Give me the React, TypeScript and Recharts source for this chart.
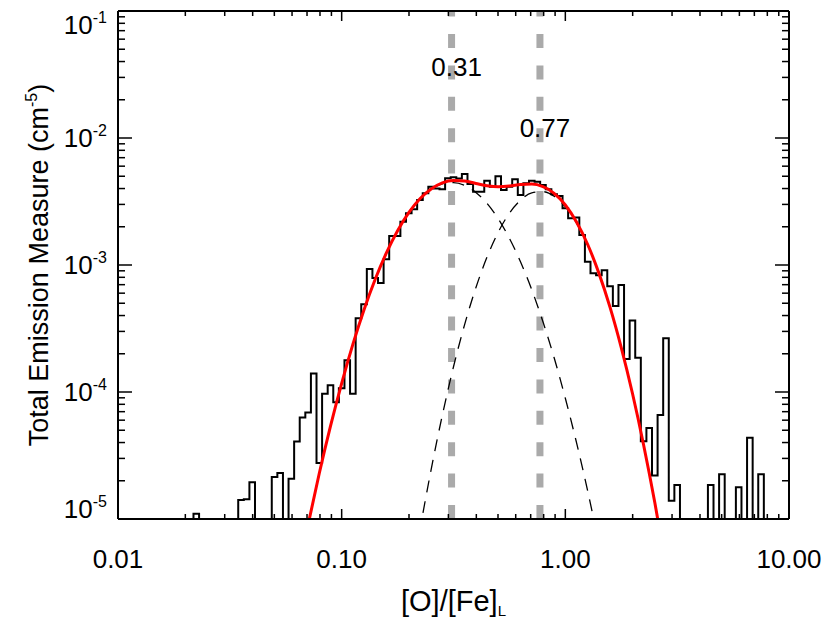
import React from 'react';
import { LineChart, Line, XAxis, YAxis, ReferenceLine, ReferenceDot } from 'recharts';

const FONT = '"Liberation Sans", Arial, Helvetica, sans-serif';

// axes
const xMajor = [0.01, 0.1, 1, 10];
const xMajorLabels = ['0.01', '0.10', '1.00', '10.00'];
const yMajor = [1e-5, 1e-4, 1e-3, 1e-2, 1e-1];
const yMajorExp = ['-5', '-4', '-3', '-2', '-1'];
const minorSteps = [2, 3, 4, 5, 6, 7, 8, 9];

// histogram: bins of 0.025 dex centred from log10 = -2 (empty bins = 0)
const histFirstLog = -2;
const histBinLog = 0.025;
const histValues = [
  0, 0, 0, 0, 0, 0, 0, 0, 0, 0,
  0, 0, 0, 0, 1.1e-5, 0, 0, 0, 0, 0,
  0, 0, 1.41e-5, 1.43e-5, 1.95e-5, 0, 0, 0, 2.14e-5, 2.3e-5,
  0, 2.07e-5, 4.07e-5, 6.3e-5, 6.9e-5, 1.4e-4, 2.76e-5, 9.7e-5, 1.13e-4, 8.3e-5,
  1.07e-4, 1.78e-4, 9.7e-5, 3.8e-4, 4.9e-4, 9.3e-4, 7.9e-4, 7.2e-4, 1.11e-3, 1.69e-3,
  1.69e-3, 2.19e-3, 2.55e-3, 2.75e-3, 3.25e-3, 3.67e-3, 4.14e-3, 4.0e-3, 3.94e-3, 4.82e-3,
  4.9e-3, 4.8e-3, 5.2e-3, 4.35e-3, 3.78e-3, 3.78e-3, 4.61e-3, 4.14e-3, 5.0e-3, 3.9e-3,
  4.14e-3, 4.73e-3, 3.56e-3, 4.4e-3, 4.6e-3, 4.53e-3, 4.26e-3, 3.94e-3, 3.6e-3, 3.5e-3,
  2.8e-3, 2.33e-3, 2.37e-3, 1.72e-3, 1.06e-3, 8.6e-4, 8.3e-4, 9.1e-4, 6.8e-4, 4.75e-4,
  6.97e-4, 1.82e-4, 3.65e-4, 1.86e-4, 4.1e-5, 5.2e-5, 2.2e-5, 6.6e-5, 2.65e-4, 1.39e-5,
  1.85e-5, 0, 0, 0, 0, 0, 1.85e-5, 0, 2.25e-5, 0,
  0, 1.78e-5, 0, 4.37e-5, 0, 2.25e-5, 0, 0, 0, 0,
  0,
];

// total fit (red)
const fitLogX = [
  -1.2, -1.15, -1.1, -1.05, -1, -0.95, -0.9, -0.85, -0.8, -0.75, -0.7, -0.65,
  -0.6, -0.55, -0.5, -0.45, -0.4, -0.35, -0.3, -0.25, -0.2, -0.15, -0.1, -0.05,
  0, 0.05, 0.1, 0.15, 0.2, 0.25, 0.3, 0.35, 0.4, 0.45,
];
const totalFit = [
  3.31e-6, 9.04e-6, 2.29e-5, 5.38e-5, 1.17e-4, 2.37e-4, 4.45e-4, 7.73e-4, 1.245e-3, 1.86e-3, 2.58e-3, 3.32e-3,
  3.96e-3, 4.43e-3, 4.62e-3, 4.58e-3, 4.39e-3, 4.21e-3, 4.13e-3, 4.18e-3, 4.3e-3, 4.34e-3, 4.14e-3, 3.67e-3,
  2.97e-3, 2.18e-3, 1.45e-3, 8.63e-4, 4.64e-4, 2.24e-4, 9.77e-5, 3.83e-5, 1.35e-5, 4.26e-6,
];

// low component (dashed)
const lowLogX = [
  -1.2, -1.15, -1.1, -1.05, -1, -0.95, -0.9, -0.85, -0.8, -0.75, -0.7, -0.65,
  -0.6, -0.55, -0.5, -0.45, -0.4, -0.35, -0.3, -0.25, -0.2, -0.15, -0.1, -0.05,
  0, 0.05, 0.1, 0.15,
];
const lowComp = [
  3.31e-6, 9.04e-6, 2.29e-5, 5.38e-5, 1.17e-4, 2.37e-4, 4.45e-4, 7.73e-4, 1.245e-3, 1.86e-3, 2.58e-3, 3.31e-3,
  3.94e-3, 4.36e-3, 4.46e-3, 4.24e-3, 3.73e-3, 3.05e-3, 2.31e-3, 1.62e-3, 1.057e-3, 6.38e-4, 3.57e-4, 1.86e-4,
  8.93e-5, 3.99e-5, 1.66e-5, 6.35e-6,
];

// high component (dashed)
const highLogX = [
  -0.7, -0.65, -0.6, -0.55, -0.5, -0.45, -0.4, -0.35, -0.3, -0.25, -0.2, -0.15,
  -0.1, -0.05, 0, 0.05, 0.1, 0.15, 0.2, 0.25, 0.3, 0.35, 0.4, 0.45,
];
const highComp = [
  2.48e-6, 8.22e-6, 2.45e-5, 6.56e-5, 1.58e-4, 3.41e-4, 6.62e-4, 1.156e-3, 1.815e-3, 2.56e-3, 3.24e-3, 3.7e-3,
  3.78e-3, 3.48e-3, 2.88e-3, 2.14e-3, 1.43e-3, 8.57e-4, 4.62e-4, 2.24e-4, 9.77e-5, 3.83e-5, 1.35e-5, 4.26e-6,
];

// peak markers
const peakX = [0.31, 0.77];
const peakLabels = ['0.31', '0.77'];
const peakLabelY = [0.036, 0.012];

const histData = histValues.map((v, i) => ({
  x: Math.pow(10, histFirstLog + i * histBinLog),
  y: v > 0 ? v : yMajor[0],
}));
const toRows = (lx: number[], ys: number[]) => lx.map((l, i) => ({ x: Math.pow(10, l), y: ys[i] }));
const fitData = toRows(fitLogX, totalFit);
const lowData = toRows(lowLogX, lowComp);
const highData = toRows(highLogX, highComp);

const withMinor = (major: number[]) =>
  major.flatMap((m, i) => (i < major.length - 1 ? [m, ...minorSteps.map((s) => s * m)] : [m]));
const xTicks = withMinor(xMajor);
const yTicks = withMinor(yMajor);

const BottomTick = (props: any) => {
  const { x, y, payload } = props;
  const i = xMajor.indexOf(payload.value);
  const len = i >= 0 ? 10 : 5;
  return (
    <g>
      <line x1={x} y1={y} x2={x} y2={y - len} stroke="#000" strokeWidth={1.5} />
      {i >= 0 && (
        <text x={x} y={y + 49} textAnchor="middle" fontSize={26} fontFamily={FONT} fill="#000">
          {xMajorLabels[i]}
        </text>
      )}
    </g>
  );
};

const TopTick = (props: any) => {
  const { x, y, payload } = props;
  const len = xMajor.indexOf(payload.value) >= 0 ? 10 : 5;
  return <line x1={x} y1={y} x2={x} y2={y + len} stroke="#000" strokeWidth={1.5} />;
};

const LeftTick = (props: any) => {
  const { x, y, payload } = props;
  const i = yMajor.indexOf(payload.value);
  const len = i >= 0 ? 14 : 7;
  const base = Math.min(Math.max(y + 9, 34), 518);
  return (
    <g>
      <line x1={x} y1={y} x2={x + len} y2={y} stroke="#000" strokeWidth={1.5} />
      {i >= 0 && (
        <text x={x - 11} y={base} textAnchor="end" fontSize={26} fontFamily={FONT} fill="#000">
          <tspan>10</tspan>
          <tspan dy={-11} fontSize={16}>{yMajorExp[i]}</tspan>
        </text>
      )}
    </g>
  );
};

const RightTick = (props: any) => {
  const { x, y, payload } = props;
  const len = yMajor.indexOf(payload.value) >= 0 ? 14 : 7;
  return <line x1={x} y1={y} x2={x - len} y2={y} stroke="#000" strokeWidth={1.5} />;
};

const XTitle = (props: any) => {
  const { viewBox } = props;
  return (
    <text x={viewBox.x + viewBox.width / 2} y={viewBox.y + 92} textAnchor="middle" fontSize={29} fontFamily={FONT} fill="#000">
      [O]/[Fe]<tspan dy={5} fontSize={15}>L</tspan>
    </text>
  );
};

const YTitle = (props: any) => {
  const { viewBox } = props;
  const cx = viewBox.x + viewBox.width - 70;
  const cy = viewBox.y + viewBox.height / 2;
  return (
    <text x={cx} y={cy} transform={`rotate(-90, ${cx}, ${cy})`} textAnchor="middle" fontSize={27} fontFamily={FONT} fill="#000">
      Total Emission Measure (cm<tspan dy={-11} fontSize={16}>-5</tspan>
      <tspan dy={11}>)</tspan>
    </text>
  );
};

const axisStroke = { stroke: '#000', strokeWidth: 2 };

export default function App() {
  return (
    <div style={{ position: 'absolute', left: 0, top: 0, background: '#fff' }}>
      <LineChart width={830} height={622} margin={{ top: 10, right: 40, bottom: 102, left: 117 }}>
        <XAxis
          xAxisId={0}
          dataKey="x"
          type="number"
          scale="log"
          domain={[0.01, 10]}
          allowDataOverflow
          ticks={xTicks}
          interval={0}
          height={1}
          tickSize={0}
          tickMargin={0}
          tickLine={false}
          axisLine={axisStroke}
          tick={BottomTick}
          label={{ content: XTitle }}
        />
        <XAxis
          xAxisId="top"
          orientation="top"
          dataKey="x"
          type="number"
          scale="log"
          domain={[0.01, 10]}
          allowDataOverflow
          ticks={xTicks}
          interval={0}
          height={1}
          tickSize={0}
          tickMargin={0}
          tickLine={false}
          axisLine={axisStroke}
          tick={TopTick}
        />
        <YAxis
          yAxisId={0}
          type="number"
          scale="log"
          domain={[1e-5, 1e-1]}
          allowDataOverflow
          ticks={yTicks}
          interval={0}
          width={1}
          tickSize={0}
          tickMargin={0}
          tickLine={false}
          axisLine={axisStroke}
          tick={LeftTick}
          label={{ content: YTitle }}
        />
        <YAxis
          yAxisId="right"
          orientation="right"
          type="number"
          scale="log"
          domain={[1e-5, 1e-1]}
          allowDataOverflow
          ticks={yTicks}
          interval={0}
          width={1}
          tickSize={0}
          tickMargin={0}
          tickLine={false}
          axisLine={axisStroke}
          tick={RightTick}
        />
        {peakX.map((p) => (
          <ReferenceLine
            key={'l' + p}
            segment={[{ x: p, y: yMajor[0] }, { x: p, y: yMajor[yMajor.length - 1] }]}
            stroke="#aaaaaa"
            strokeWidth={7}
            strokeDasharray="14 17.4"
          />
        ))}
        <Line
          data={histData}
          dataKey="y"
          type="step"
          stroke="#000"
          strokeWidth={2}
          dot={false}
          activeDot={false}
          isAnimationActive={false}
        />
        <Line
          data={lowData}
          dataKey="y"
          type="monotone"
          stroke="#000"
          strokeWidth={1.3}
          strokeDasharray="12 9"
          dot={false}
          activeDot={false}
          isAnimationActive={false}
        />
        <Line
          data={highData}
          dataKey="y"
          type="monotone"
          stroke="#000"
          strokeWidth={1.3}
          strokeDasharray="12 9"
          dot={false}
          activeDot={false}
          isAnimationActive={false}
        />
        <Line
          data={fitData}
          dataKey="y"
          type="monotone"
          stroke="#ff0000"
          strokeWidth={3}
          dot={false}
          activeDot={false}
          isAnimationActive={false}
        />
        {peakX.map((p, i) => (
          <ReferenceDot
            key={'t' + p}
            x={p}
            y={peakLabelY[i]}
            r={0}
            shape={(s: any) => (
              <text x={s.cx + 5} y={s.cy} textAnchor="middle" dominantBaseline="central" fontSize={26} fontFamily={FONT} fill="#000">
                {peakLabels[i]}
              </text>
            )}
          />
        ))}
      </LineChart>
    </div>
  );
}
